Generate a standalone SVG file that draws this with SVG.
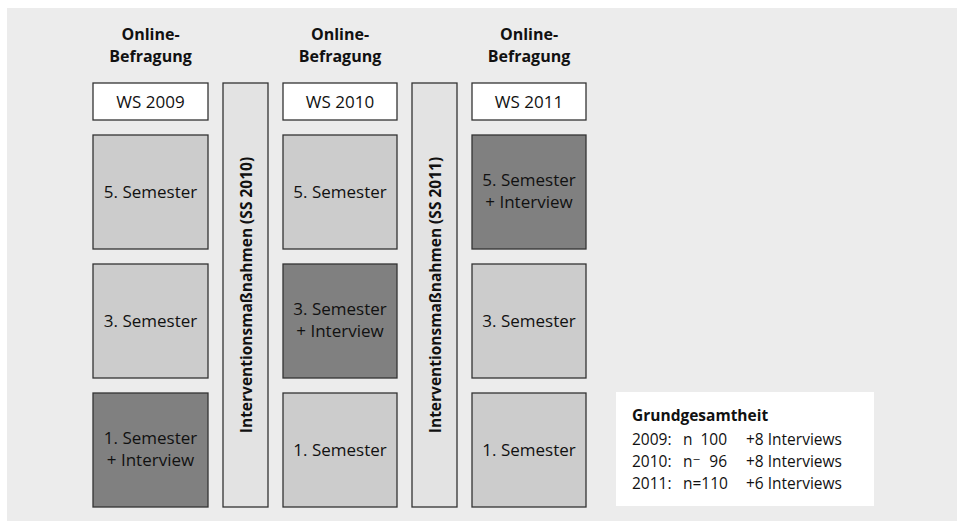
<svg xmlns="http://www.w3.org/2000/svg" width="957" height="521" viewBox="0 0 957 521">
<style>
.box{stroke:#333;stroke-width:1.3}
.light{fill:#cccccc}
.dark{fill:#808080}
.white{fill:#ffffff}
.bar{fill:#e3e3e3}
text{font-family:"Open Sans","DejaVu Sans",sans-serif;fill:#111}
.h{font-size:16px;font-weight:bold;text-anchor:middle}
.t{font-size:17px;text-anchor:middle}
.v{font-size:15.5px;font-weight:bold;text-anchor:middle}
.l{font-size:15.5px}
.lb{font-size:15.5px;font-weight:bold}
</style>
<rect x="7" y="8" width="950" height="513" fill="#ececec"/>
<g id="col1">
<text class="h" x="150.5" y="40">Online-</text>
<text class="h" x="150.5" y="62">Befragung</text>
<g id="ws2009"><rect class="box white" x="93" y="83" width="115" height="37"/><text class="t" x="150.5" y="108">WS 2009</text></g>
<g id="c1r1"><rect class="box light" x="93" y="135" width="115" height="114"/><text class="t" x="150.5" y="198">5. Semester</text></g>
<g id="c1r2"><rect class="box light" x="93" y="264" width="115" height="114"/><text class="t" x="150.5" y="327">3. Semester</text></g>
<g id="c1r3"><rect class="box dark" x="93" y="393" width="115" height="114"/><text class="t" x="150.5" y="444">1. Semester</text><text class="t" x="150.5" y="466">+ Interview</text></g>
</g>
<g id="bar1"><rect class="box bar" x="223" y="83" width="45" height="424"/><text class="v" transform="translate(252 295) rotate(-90)">Interventionsmaßnahmen (SS 2010)</text></g>
<g id="col2">
<text class="h" x="340" y="40">Online-</text>
<text class="h" x="340" y="62">Befragung</text>
<g id="ws2010"><rect class="box white" x="283" y="83" width="114" height="37"/><text class="t" x="340" y="108">WS 2010</text></g>
<g id="c2r1"><rect class="box light" x="283" y="135" width="114" height="114"/><text class="t" x="340" y="198">5. Semester</text></g>
<g id="c2r2"><rect class="box dark" x="283" y="264" width="114" height="114"/><text class="t" x="340" y="315">3. Semester</text><text class="t" x="340" y="337">+ Interview</text></g>
<g id="c2r3"><rect class="box light" x="283" y="393" width="114" height="114"/><text class="t" x="340" y="456">1. Semester</text></g>
</g>
<g id="bar2"><rect class="box bar" x="412" y="83" width="45" height="424"/><text class="v" transform="translate(441 295) rotate(-90)">Interventionsmaßnahmen (SS 2011)</text></g>
<g id="col3">
<text class="h" x="529" y="40">Online-</text>
<text class="h" x="529" y="62">Befragung</text>
<g id="ws2011"><rect class="box white" x="472" y="83" width="114" height="37"/><text class="t" x="529" y="108">WS 2011</text></g>
<g id="c3r1"><rect class="box dark" x="472" y="135" width="114" height="114"/><text class="t" x="529" y="186">5. Semester</text><text class="t" x="529" y="208">+ Interview</text></g>
<g id="c3r2"><rect class="box light" x="472" y="264" width="114" height="114"/><text class="t" x="529" y="327">3. Semester</text></g>
<g id="c3r3"><rect class="box light" x="472" y="393" width="114" height="114"/><text class="t" x="529" y="456">1. Semester</text></g>
</g>
<g id="legend">
<rect x="616" y="392" width="258" height="114" fill="#ffffff"/>
<text class="lb" x="632" y="421">Grundgesamtheit</text>
<text class="l" x="632" y="445">2009:</text><text class="l" x="683" y="445">n</text><text class="l" x="727" y="445" text-anchor="end">100</text><text class="l" x="746" y="445">+8 Interviews</text>
<text class="l" x="632" y="467">2010:</text><text class="l" x="683" y="467">n⁻</text><text class="l" x="727" y="467" text-anchor="end">96</text><text class="l" x="746" y="467">+8 Interviews</text>
<text class="l" x="632" y="489">2011:</text><text class="l" x="683" y="489">n=110</text><text class="l" x="746" y="489">+6 Interviews</text>
</g>
<g id="connectors"></g>
</svg>
